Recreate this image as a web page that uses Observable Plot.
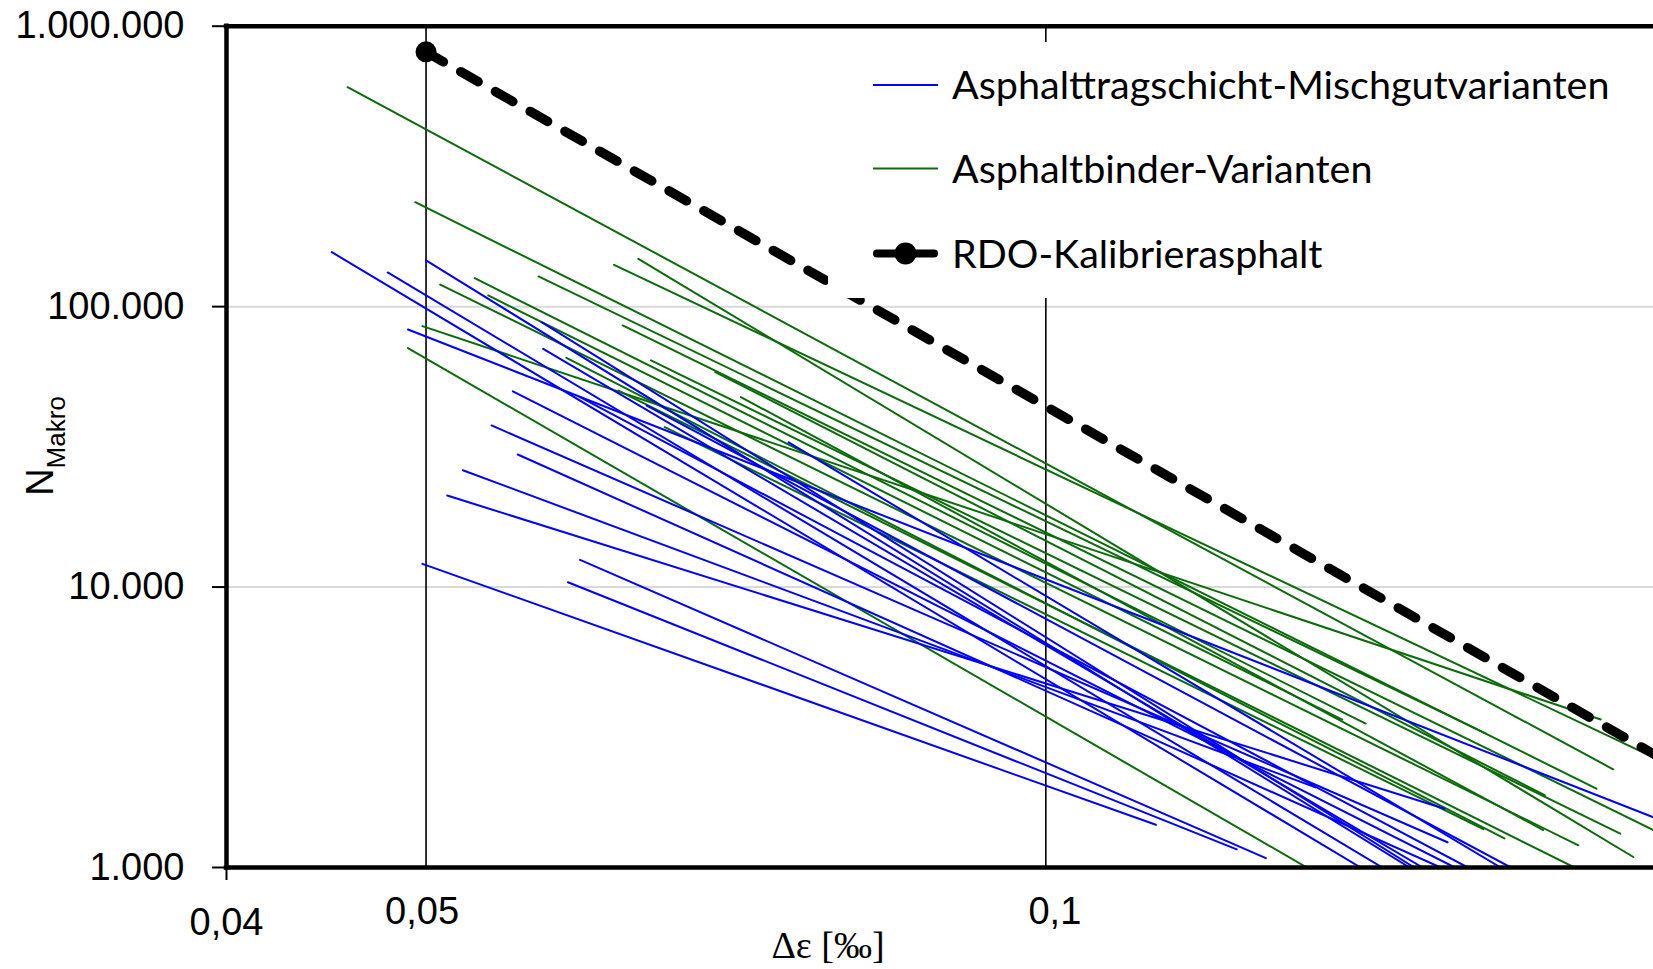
<!DOCTYPE html>
<html>
<head>
<meta charset="utf-8">
<script src="https://cdn.jsdelivr.net/npm/d3@7"></script>
<script src="https://cdn.jsdelivr.net/npm/@observablehq/plot@0.6"></script>
<style>
  html, body { margin: 0; padding: 0; background: #fff; }
  #chart { position: relative; width: 1653px; height: 969px; overflow: hidden; }
</style>
</head>
<body>
<div id="chart"></div>
<script>
// Fatigue lines N_Makro over strain amplitude Δε (log-log); each variant is a straight line
// given by its first and last point.

// Asphalttragschicht-Mischgutvarianten (blue)
const blueEpsStart = [0.0450, 0.0479, 0.0500, 0.0490, 0.0569, 0.0570, 0.0551, 0.0594, 0.0640, 0.0750, 0.0538, 0.0554, 0.0521, 0.0512, 0.0594, 0.0586, 0.0498];
const blueNStart   = [156400, 132400, 146100, 82900, 88000, 70700, 49900, 47600, 44400, 32800, 37700, 29700, 26100, 21200, 12500, 10400, 12100];
const blueEpsEnd   = [0.1422, 0.1457, 0.1502, 0.1973, 0.1510, 0.1524, 0.1580, 0.1603, 0.1682, 0.1663, 0.1567, 0.1555, 0.1352, 0.1562, 0.1279, 0.1238, 0.1131];
const blueNEnd     = [1000, 1000, 1000, 1510, 1000, 1000, 1000, 1000, 1000, 1000, 1230, 1000, 1930, 1620, 1080, 1160, 1420];

// Asphaltbinder-Varianten (green)
const greenEpsStart = [0.0458, 0.0494, 0.0528, 0.0508, 0.0567, 0.0617, 0.0634, 0.0536, 0.0498, 0.0490, 0.0623, 0.0643, 0.0691, 0.0711, 0.0585, 0.0653, 0.0620];
const greenNStart   = [606000, 235700, 126300, 119900, 128100, 141000, 148100, 109600, 85200, 71100, 85700, 64300, 58400, 47600, 65700, 37200, 50200];
const greenEpsEnd   = [0.1886, 0.1851, 0.1430, 0.1814, 0.1635, 0.1973, 0.1929, 0.1393, 0.1860, 0.1339, 0.1973, 0.1901, 0.1747, 0.1744, 0.1670, 0.1631, 0.1806];
const greenNEnd     = [2240, 1910, 3260, 1200, 3010, 2470, 1090, 3370, 3370, 1000, 1360, 1320, 1810, 1360, 1270, 1370, 1000];

// RDO-Kalibrierasphalt (black dashed)
const rdoEps = [0.05, 0.2];
const rdoN   = [810000, 2400];

// Axis ticks
const yTicks = [1000, 10000, 100000, 1000000];
const xTickBase = [0.04];
const xTickMid = [0.05];
const xTickTen = [0.1];
const xGrid = [0.05, 0.1];

const legendLabels = ["Asphalttragschicht-Mischgutvarianten", "Asphaltbinder-Varianten", "RDO-Kalibrierasphalt"];

const BLUE = "#0000ff";
const GREEN = "#0b6b0b";

function segments(prefix, e0, n0, e1, n1) {
  const out = [];
  e0.forEach((e, i) => {
    out.push({id: prefix + i, eps: e, n: n0[i]});
    out.push({id: prefix + i, eps: e1[i], n: n1[i]});
  });
  return out;
}
const blueRows = segments("b", blueEpsStart, blueNStart, blueEpsEnd, blueNEnd);
const greenRows = segments("g", greenEpsStart, greenNStart, greenEpsEnd, greenNEnd);
const rdoRows = rdoEps.map((e, i) => ({eps: e, n: rdoN[i]}));

const de = d3.formatLocale({decimal: ",", thousands: ".", grouping: [3], currency: ["", " €"]});
const fmtN = de.format(",d");
const fmtEps = de.format(",");

const W = 1653, H = 969;
const svg = Plot.plot({
  width: W,
  height: H,
  marginLeft: 226,
  marginRight: 0,
  marginTop: 25.7,
  marginBottom: 102,
  style: {fontFamily: "Liberation Sans", fontSize: "38px", background: "white", overflow: "hidden"},
  x: {type: "log", domain: [0.04, 0.1973]},
  y: {type: "log", domain: [1000, 1000000]},
  marks: [
    Plot.gridY([10000, 100000], {stroke: "#d9d9d9", strokeOpacity: 1, strokeWidth: 2}),
    Plot.ruleX(xGrid, {stroke: "black", strokeWidth: 1.6}),
    Plot.line(greenRows, {x: "eps", y: "n", z: "id", stroke: GREEN, strokeWidth: 2, clip: true}),
    Plot.line(blueRows, {x: "eps", y: "n", z: "id", stroke: BLUE, strokeWidth: 2, clip: true}),
    Plot.line(rdoRows, {x: "eps", y: "n", stroke: "black", strokeWidth: 9.5, strokeDasharray: "20,20", strokeLinecap: "round", clip: true}),
    Plot.dot(rdoRows, {x: "eps", y: "n", r: 10.5, fill: "black", stroke: "none", clip: true}),
    Plot.ruleX(xTickBase, {stroke: "black", strokeWidth: 4.5, strokeLinecap: "square"}),
    Plot.ruleY([1000, 1000000], {stroke: "black", strokeWidth: 4.5, strokeLinecap: "square"}),
    Plot.axisY(yTicks, {tickSize: 14, tickPadding: 28, tickFormat: fmtN, fontSize: 38, strokeWidth: 2, label: null}),
    Plot.axisX(xTickMid, {tickSize: 0, tickPadding: 30, tickFormat: fmtEps, fontSize: 38, dx: -4, label: null}),
    Plot.axisX(xTickTen, {tickSize: 0, tickPadding: 30, tickFormat: fmtEps, fontSize: 38, dx: 9, label: null}),
    Plot.axisX(xTickBase, {tickSize: 13, tickPadding: 28, tickFormat: fmtEps, fontSize: 38, strokeWidth: 2, label: null})
  ]
});

const root = d3.select(svg);

// y axis title with subscript
const yTitle = root.append("text")
  .attr("transform", "translate(53,446) rotate(-90)")
  .attr("text-anchor", "middle")
  .attr("font-family", "Liberation Sans")
  .attr("fill", "black");
yTitle.append("tspan").attr("font-size", 38).text("N");
yTitle.append("tspan").attr("font-size", 26).attr("dy", 12).text("Makro");

// x axis title
root.append("text")
  .attr("x", 828).attr("y", 958)
  .attr("text-anchor", "middle")
  .attr("font-family", "Liberation Serif")
  .attr("font-size", 38)
  .attr("fill", "black")
  .text("Δε [‰]");

// legend box
const lg = root.append("g").attr("text-anchor", "start");
lg.append("rect").attr("x", 828).attr("y", 42).attr("width", W - 828).attr("height", 256).attr("fill", "white");
const rowsY = [85, 168.5, 253.5];
const sw0 = 873, sw1 = 938;
lg.append("line").attr("x1", sw0).attr("x2", sw1).attr("y1", rowsY[0]).attr("y2", rowsY[0]).attr("stroke", BLUE).attr("stroke-width", 2);
lg.append("line").attr("x1", sw0).attr("x2", sw1).attr("y1", rowsY[1]).attr("y2", rowsY[1]).attr("stroke", GREEN).attr("stroke-width", 2);
lg.append("line").attr("x1", sw0 + 4).attr("x2", sw1 - 4).attr("y1", rowsY[2]).attr("y2", rowsY[2]).attr("stroke", "black").attr("stroke-width", 8).attr("stroke-linecap", "round");
lg.append("circle").attr("cx", (sw0 + sw1) / 2).attr("cy", rowsY[2]).attr("r", 11).attr("fill", "black");
legendLabels.forEach((t, i) => {
  lg.append("text")
    .attr("x", 952).attr("y", rowsY[i]).attr("dy", "0.36em")
    .attr("text-anchor", "start")
    .attr("font-family", "Lato")
    .attr("font-size", 39.5)
    .attr("fill", "black")
    .text(t);
});

document.getElementById("chart").appendChild(svg);
</script>
</body>
</html>
